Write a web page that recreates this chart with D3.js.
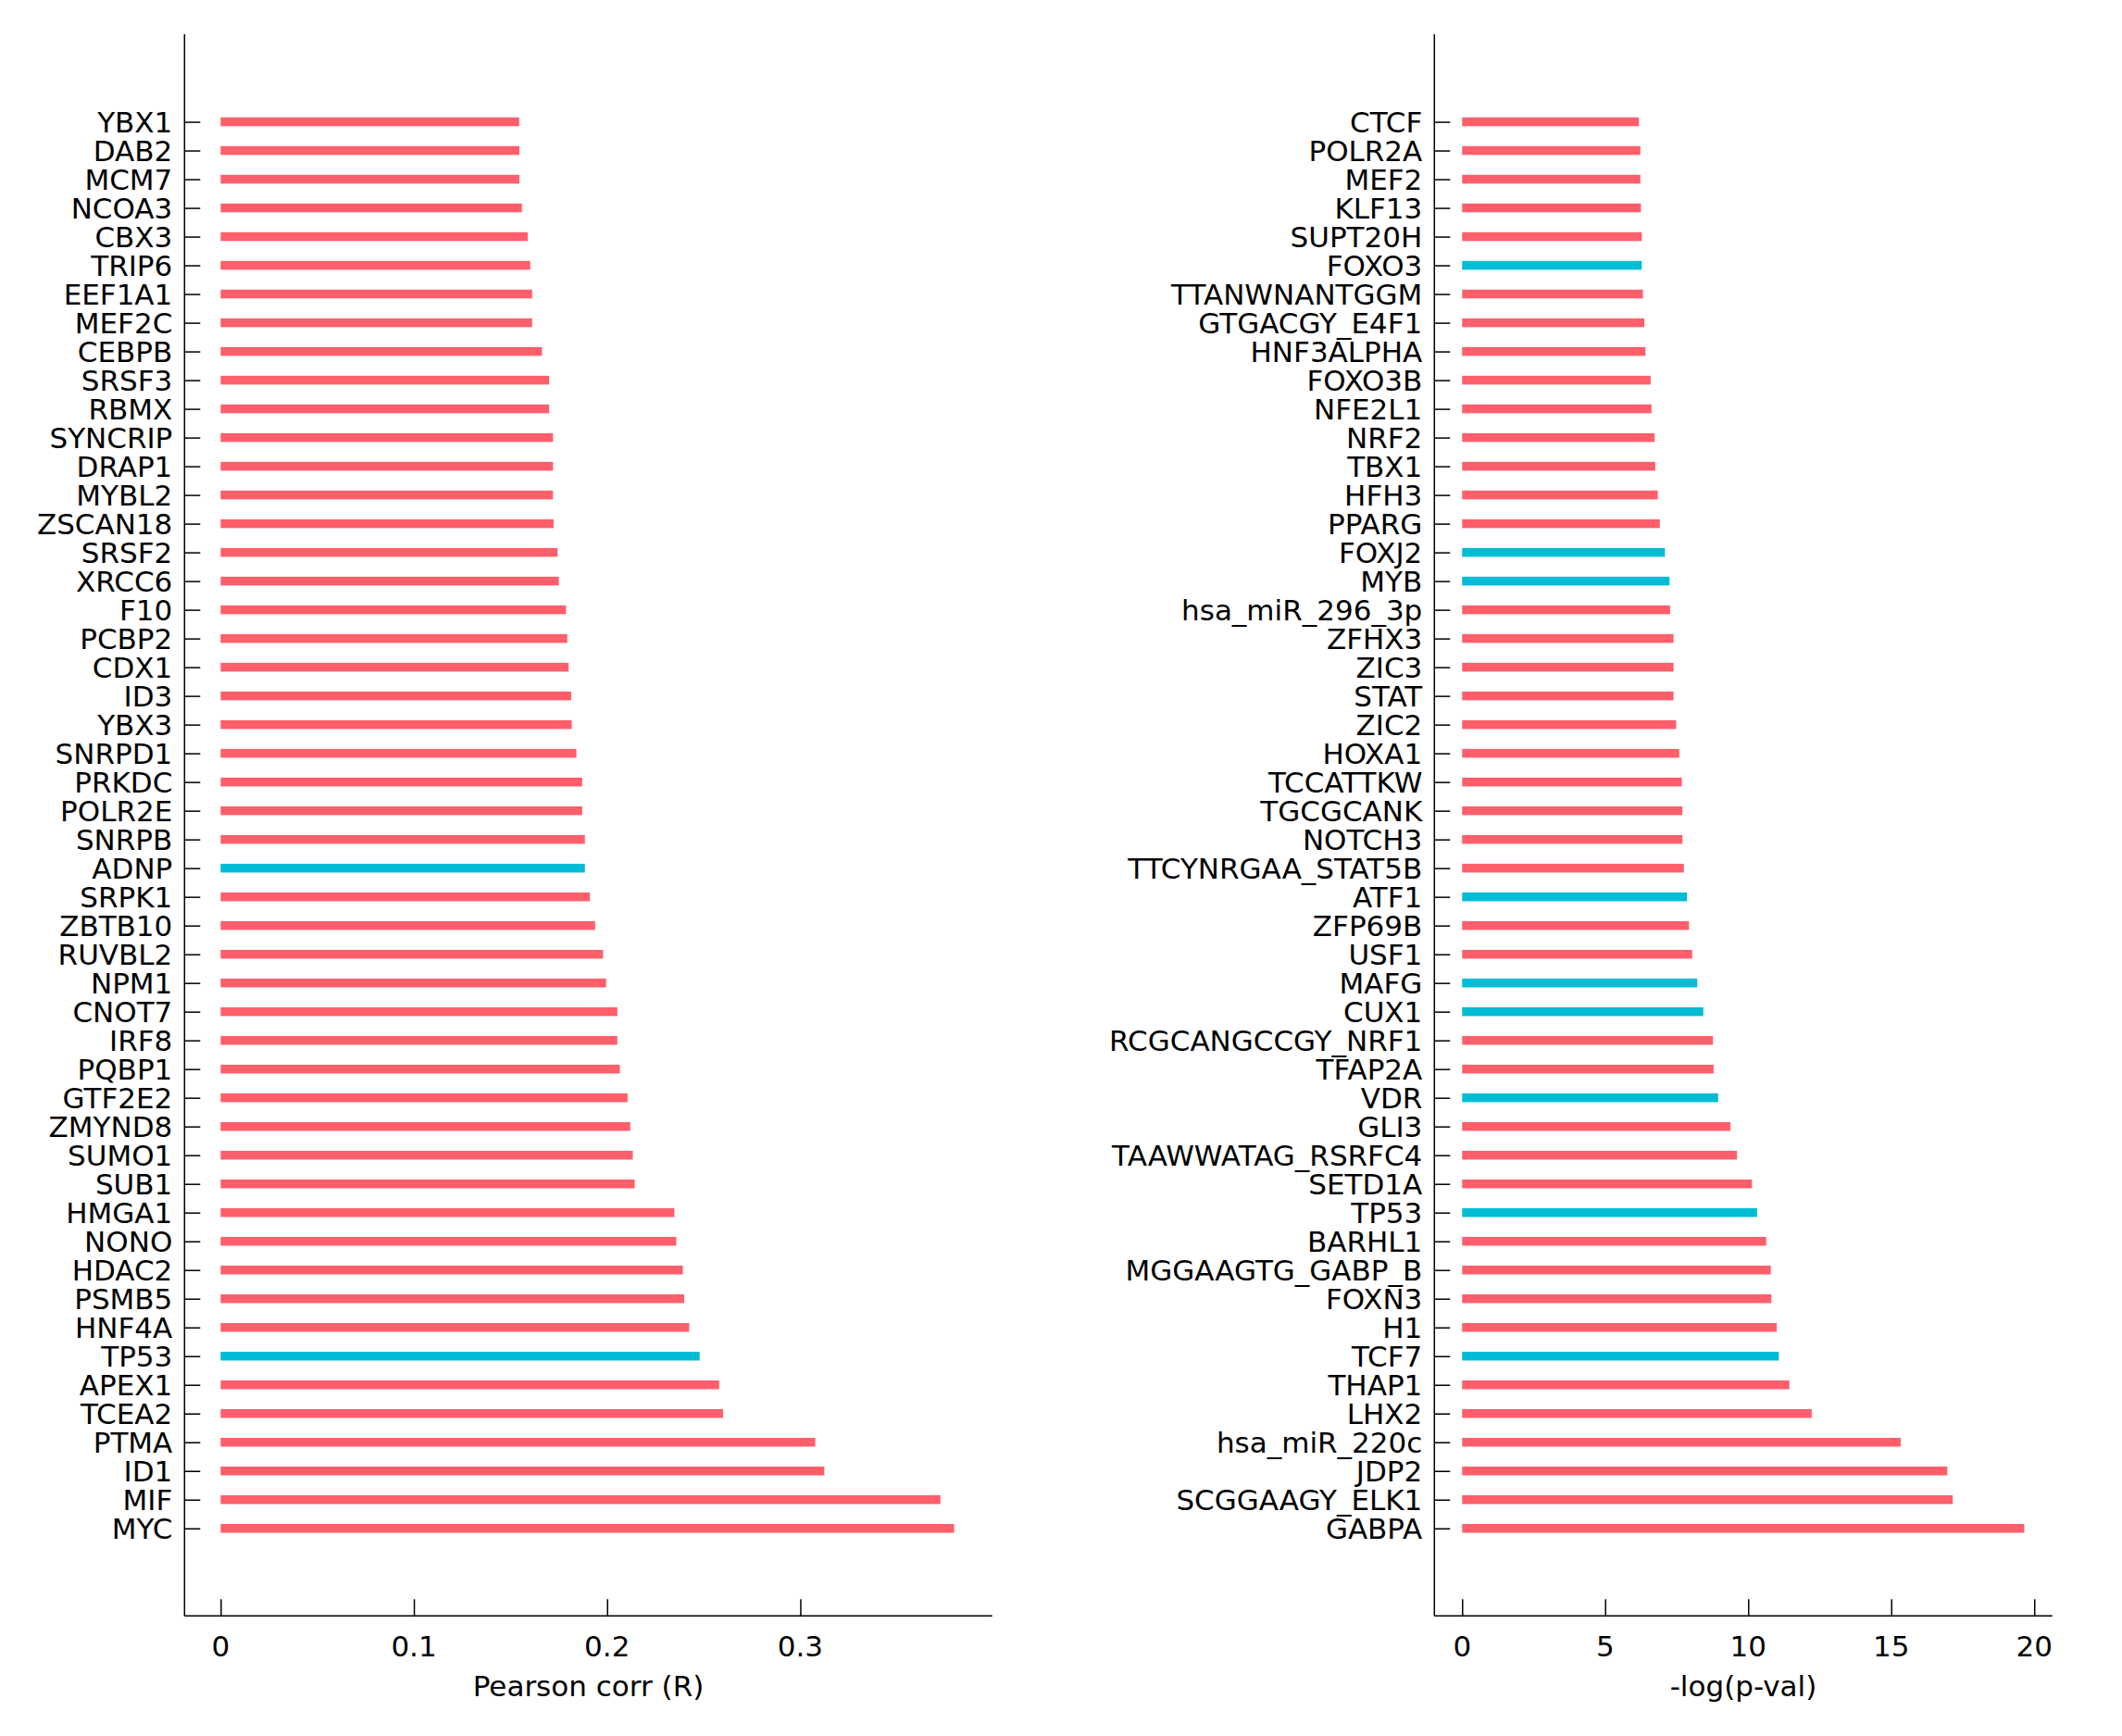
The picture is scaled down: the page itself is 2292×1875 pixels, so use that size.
<!DOCTYPE html>
<html>
<head>
<meta charset="utf-8">
<script src="https://cdn.jsdelivr.net/npm/d3@7"></script>
<style>
  html, body { margin: 0; padding: 0; background: #ffffff; }
  svg { display: block; }
  text { font-family: "DejaVu Sans", sans-serif; fill: #000; }
</style>
</head>
<body>
<script>
const leftGenes = ["YBX1","DAB2","MCM7","NCOA3","CBX3","TRIP6","EEF1A1","MEF2C","CEBPB","SRSF3",
  "RBMX","SYNCRIP","DRAP1","MYBL2","ZSCAN18","SRSF2","XRCC6","F10","PCBP2","CDX1",
  "ID3","YBX3","SNRPD1","PRKDC","POLR2E","SNRPB","ADNP","SRPK1","ZBTB10","RUVBL2",
  "NPM1","CNOT7","IRF8","PQBP1","GTF2E2","ZMYND8","SUMO1","SUB1","HMGA1","NONO",
  "HDAC2","PSMB5","HNF4A","TP53","APEX1","TCEA2","PTMA","ID1","MIF","MYC"];
const leftValues = [0.1545,0.1546,0.1546,0.1559,0.1589,0.1602,0.1612,0.1612,0.1663,0.1700,
  0.1700,0.1720,0.1720,0.1720,0.1723,0.1744,0.1750,0.1787,0.1794,0.1801,
  0.1814,0.1817,0.1841,0.1871,0.1871,0.1885,0.1885,0.1911,0.1938,0.1979,
  0.1995,0.2053,0.2053,0.2066,0.2106,0.2120,0.2133,0.2143,0.2348,0.2358,
  0.2392,0.2399,0.2425,0.2479,0.2580,0.2600,0.3077,0.3124,0.3725,0.3796];
const leftHighlight = ["ADNP","TP53"];
const leftTicks = [0, 0.1, 0.2, 0.3];
const leftTitle = "Pearson corr (R)";

const rightGenes = ["CTCF","POLR2A","MEF2","KLF13","SUPT20H","FOXO3","TTANWNANTGGM","GTGACGY_E4F1","HNF3ALPHA","FOXO3B",
  "NFE2L1","NRF2","TBX1","HFH3","PPARG","FOXJ2","MYB","hsa_miR_296_3p","ZFHX3","ZIC3",
  "STAT","ZIC2","HOXA1","TCCATTKW","TGCGCANK","NOTCH3","TTCYNRGAA_STAT5B","ATF1","ZFP69B","USF1",
  "MAFG","CUX1","RCGCANGCCGY_NRF1","TFAP2A","VDR","GLI3","TAAWWATAG_RSRFC4","SETD1A","TP53","BARHL1",
  "MGGAAGTG_GABP_B","FOXN3","H1","TCF7","THAP1","LHX2","hsa_miR_220c","JDP2","SCGGAAGY_ELK1","GABPA"];
const rightValues = [6.18,6.23,6.23,6.25,6.28,6.28,6.32,6.37,6.41,6.59,
  6.62,6.73,6.75,6.84,6.91,7.09,7.25,7.27,7.39,7.39,
  7.39,7.48,7.59,7.68,7.70,7.70,7.75,7.86,7.93,8.04,
  8.22,8.43,8.77,8.79,8.95,9.38,9.61,10.13,10.31,10.63,
  10.79,10.81,11.00,11.07,11.44,12.22,15.33,16.96,17.15,19.65];
const rightHighlight = ["FOXO3","FOXJ2","MYB","ATF1","MAFG","CUX1","VDR","TP53","TCF7"];
const rightTicks = [0, 5, 10, 15, 20];
const rightTitle = "-log(p-val)";

const W = 2292, H = 1875;
const RED = "#ff5e6b", CYAN = "#00bcd4";
const FS = 31;

const svg = d3.select("body").append("svg").attr("width", W).attr("height", H);
svg.append("rect").attr("width", W).attr("height", H).attr("fill", "#fff");

const yTop = 37, yBottom = 1745.3;
const y = d3.scaleLinear().domain([-3.05, 52.05]).range([yTop, yBottom]);

function panel(genes, values, highlight, ticks, title, xLeft, xRight, domain, fmt) {
  const x = d3.scaleLinear().domain(domain).range([xLeft, xRight]);
  const g = svg.append("g");
  const barH = 9.5;

  g.selectAll("rect.bar").data(genes).enter().append("rect")
    .attr("class", "bar")
    .attr("x", x(0))
    .attr("y", (d, i) => y(i) - barH / 2)
    .attr("width", (d, i) => x(values[i]) - x(0))
    .attr("height", barH)
    .attr("fill", d => highlight.includes(d) ? CYAN : RED);

  // y axis (ticks inward)
  const yAxis = d3.axisRight(y).tickValues(d3.range(genes.length)).tickSize(17).tickFormat("");
  const ya = g.append("g").attr("transform", `translate(${xLeft},0)`).call(yAxis);
  ya.select(".domain").remove();
  ya.selectAll("line").attr("stroke", "#000").attr("stroke-width", 1.5);
  g.append("line").attr("x1", xLeft).attr("x2", xLeft).attr("y1", yTop).attr("y2", yBottom)
    .attr("stroke", "#000").attr("stroke-width", 1.5);

  g.selectAll("text.lab").data(genes).enter().append("text")
    .attr("class", "lab")
    .attr("x", xLeft - 13)
    .attr("y", (d, i) => y(i))
    .attr("dy", "0.36em")
    .attr("text-anchor", "end")
    .style("font-size", FS + "px")
    .text(d => d);

  // x axis (ticks inward)
  const xAxis = d3.axisTop(x).tickValues(ticks).tickSize(18).tickFormat("");
  const xa = g.append("g").attr("transform", `translate(0,${yBottom})`).call(xAxis);
  xa.select(".domain").remove();
  xa.selectAll("line").attr("stroke", "#000").attr("stroke-width", 1.5);
  g.append("line").attr("x1", xLeft).attr("x2", xRight).attr("y1", yBottom).attr("y2", yBottom)
    .attr("stroke", "#000").attr("stroke-width", 1.5);

  g.selectAll("text.tick").data(ticks).enter().append("text")
    .attr("class", "tick")
    .attr("x", d => x(d))
    .attr("y", 1789)
    .attr("text-anchor", "middle")
    .style("font-size", FS + "px")
    .text(d => fmt(d));

  g.append("text")
    .attr("x", (xLeft + xRight) / 2)
    .attr("y", 1832)
    .attr("text-anchor", "middle")
    .style("font-size", FS + "px")
    .text(title);
}

panel(leftGenes, leftValues, leftHighlight, leftTicks, leftTitle,
      199.3, 1071.7, [-0.0187, 0.3993], d => d === 0 ? "0" : d3.format(".1f")(d));
panel(rightGenes, rightValues, rightHighlight, rightTicks, rightTitle,
      1549.3, 2216.7, [-0.97, 20.63], d => String(d));
</script>
</body>
</html>
